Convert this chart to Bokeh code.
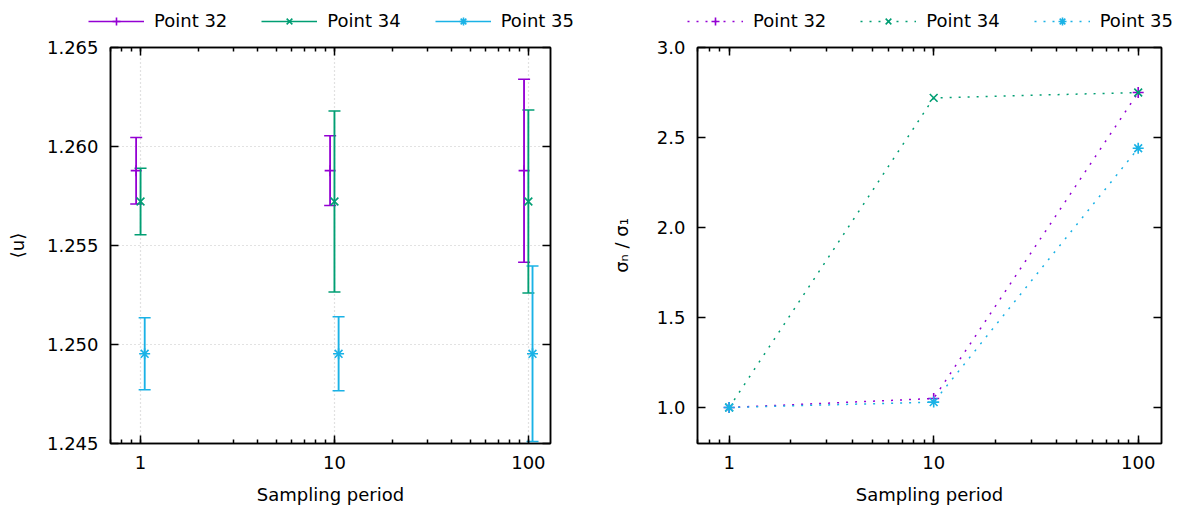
from bokeh.plotting import figure
from bokeh.models import (ColumnDataSource, Range1d, LinearAxis, LogAxis, FixedTicker, LogTicker,
                          PrintfTickFormatter, CustomJSTickFormatter, Whisker, TeeHead,
                          Legend, LegendItem)
from bokeh.layouts import row, column
from bokeh.embed import file_html
from bokeh.resources import INLINE

# ---- data -------------------------------------------------------------
periods = [1, 10, 100]
names = ["Point 32", "Point 34", "Point 35"]

mean_32 = [1.25878, 1.25878, 1.25878]
mean_34 = [1.25722, 1.25722, 1.25722]
mean_35 = [1.24953, 1.24953, 1.24953]

err_32 = [0.00168, 0.00176, 0.00462]
err_34 = [0.00168, 0.00457, 0.00462]
err_35 = [0.00182, 0.00187, 0.00443]

ratio_32 = [1.00, 1.05, 2.75]
ratio_34 = [1.00, 2.72, 2.75]
ratio_35 = [1.00, 1.03, 2.44]

u_ticks = [1.245, 1.250, 1.255, 1.260, 1.265]
ratio_ticks = [1.0, 1.5, 2.0, 2.5, 3.0]

# ---- style ------------------------------------------------------------
FONT = "DejaVu Sans"
FS = "18px"
colors = ["#9400D3", "#009E73", "#1AB2E6"]
markers = ["cross", "x", "asterisk"]
shift = [0.95, 1.0, 1.05]          # small horizontal offsets on the log axis
X_RANGE = (0.7, 130)
STRIP_H = 36                       # height of the key strip above each panel


def style_axis(ax, ticker, fmt, minor=True, labels=True):
    ax.ticker = ticker
    ax.formatter = fmt if labels else CustomJSTickFormatter(code="return ''")
    ax.axis_line_color = "black"
    ax.axis_line_width = 1.5
    ax.major_tick_line_color = "black"
    ax.major_tick_line_width = 1.5
    ax.major_tick_in = 8
    ax.major_tick_out = 0
    ax.minor_tick_line_color = "black" if minor else None
    ax.minor_tick_line_width = 1.5
    ax.minor_tick_in = 4
    ax.minor_tick_out = 0
    ax.major_label_text_font = FONT
    ax.major_label_text_font_size = FS if labels else "1px"
    ax.major_label_text_color = "black"
    ax.major_label_standoff = 12 if labels else 0
    ax.axis_label_text_font = FONT
    ax.axis_label_text_font_size = FS
    ax.axis_label_text_font_style = "normal"
    ax.axis_label_text_color = "black"


def make_fig(width, border_left, border_right, y_range):
    p = figure(width=width, height=510 - STRIP_H, x_axis_type="log",
               x_range=Range1d(*X_RANGE), y_range=Range1d(*y_range),
               output_backend="svg", toolbar_location=None,
               min_border_left=border_left, min_border_right=border_right,
               min_border_top=47 - STRIP_H, min_border_bottom=67)
    p.outline_line_color = "black"
    p.outline_line_width = 1.5
    p.background_fill_color = "white"
    p.border_fill_color = "white"
    return p


def add_mirror_axes(p, xticker, yticker):
    top = LogAxis()
    style_axis(top, xticker, None, labels=False)
    p.add_layout(top, "above")
    right = LinearAxis()
    style_axis(right, yticker, None, minor=False, labels=False)
    p.add_layout(right, "right")


def key_strip(width, x_off, sources, kind):
    """A thin axis-free figure that carries one row of legend keys.

    The key renderers reuse the series sources, but the strip's ranges lie
    away from the data, so only the legend keys are visible."""
    s = figure(width=width, height=STRIP_H, output_backend="svg",
               toolbar_location=None, x_axis_location=None, y_axis_location=None,
               x_range=Range1d(1000, 2000), y_range=Range1d(1000, 2000), min_border=0)
    s.outline_line_color = None
    s.xgrid.visible = False
    s.ygrid.visible = False
    s.background_fill_color = "white"
    s.border_fill_color = "white"
    items = []
    for name, col, mk, src in zip(names, colors, markers, sources):
        if kind == "bars":
            r1 = s.segment(x0="x", y0="lo", x1="x", y1="hi", source=src,
                           line_color=col, line_width=1.5)
        else:
            r1 = s.line(x="x", y="y", source=src, line_color=col,
                        line_width=1.5, line_dash="2 7")
        r2 = s.scatter(x="x", y="y", source=src, marker=mk, size=11,
                       line_color=col, line_width=1.6, fill_color=col)
        items.append(LegendItem(label=name, renderers=[r1, r2]))
    leg = Legend(items=items, orientation="horizontal", location=(x_off, 5),
                 glyph_width=56, glyph_height=20, label_height=20,
                 label_standoff=10, spacing=34,
                 padding=0, margin=0, border_line_color=None,
                 background_fill_alpha=0, label_text_font=FONT,
                 label_text_font_size=FS, label_text_color="black")
    s.add_layout(leg)
    return s


# ---- left panel: mean with error bars ----------------------------------
left = make_fig(590, 110, 40, (u_ticks[0], u_ticks[-1]))
xt = LogTicker(desired_num_ticks=3, num_minor_ticks=10)
yt_u = FixedTicker(ticks=u_ticks)
style_axis(left.xaxis[0], xt, PrintfTickFormatter(format="%d"))
style_axis(left.yaxis[0], yt_u, PrintfTickFormatter(format="%.3f"), minor=False)
left.xaxis[0].axis_label = "Sampling period"
left.xaxis[0].axis_label_standoff = 12
left.yaxis[0].axis_label = "⟨u⟩"
left.yaxis[0].axis_label_standoff = 16
add_mirror_axes(left, xt, yt_u)
for g in (left.xgrid[0], left.ygrid[0]):
    g.grid_line_color = "#c4c4c4"
    g.grid_line_dash = "1 3"
    g.grid_line_width = 1.2

bar_sources = []
for mean, err, col, mk, sh in zip([mean_32, mean_34, mean_35],
                                  [err_32, err_34, err_35], colors, markers, shift):
    src = ColumnDataSource(dict(
        x=[t * sh for t in periods], y=mean,
        lo=[m - e for m, e in zip(mean, err)],
        hi=[m + e for m, e in zip(mean, err)]))
    bar_sources.append(src)
    left.segment(x0="x", y0="lo", x1="x", y1="hi", source=src,
                 line_color=col, line_width=1.5)
    left.add_layout(Whisker(source=src, base="x", lower="lo", upper="hi",
                            dimension="height", line_color=col, line_width=1.5,
                            lower_head=TeeHead(size=12, line_color=col, line_width=1.5),
                            upper_head=TeeHead(size=12, line_color=col, line_width=1.5)))
    left.scatter(x="x", y="y", source=src, marker=mk, size=11,
                 line_color=col, line_width=1.6, fill_color=col)

# ---- right panel: ratio of standard deviations -------------------------
right = make_fig(587, 107, 16, (0.8, 3.0))
xt2 = LogTicker(desired_num_ticks=3, num_minor_ticks=10)
yt_r = FixedTicker(ticks=ratio_ticks)
style_axis(right.xaxis[0], xt2, PrintfTickFormatter(format="%d"))
style_axis(right.yaxis[0], yt_r, PrintfTickFormatter(format="%.1f"), minor=False)
right.xaxis[0].axis_label = "Sampling period"
right.xaxis[0].axis_label_standoff = 12
right.yaxis[0].axis_label = "σₙ / σ₁"
right.yaxis[0].axis_label_standoff = 22
add_mirror_axes(right, xt2, yt_r)
right.xgrid.visible = False
right.ygrid.visible = False

ratio_sources = []
for ratio, col, mk in zip([ratio_32, ratio_34, ratio_35], colors, markers):
    src = ColumnDataSource(dict(x=periods, y=ratio))
    ratio_sources.append(src)
    right.line(x="x", y="y", source=src, line_color=col, line_width=1.5,
               line_dash="2 7")
    right.scatter(x="x", y="y", source=src, marker=mk, size=11,
                  line_color=col, line_width=1.6, fill_color=col)

layout = column(row(key_strip(590, 88, bar_sources, "bars"),
                    key_strip(587, 97, ratio_sources, "lines")),
                row(left, right))
open("out.html", "w").write(file_html(layout, INLINE))
